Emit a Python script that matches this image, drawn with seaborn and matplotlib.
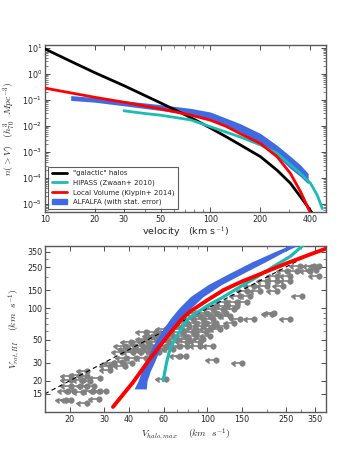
import numpy as np
import matplotlib
matplotlib.use('Agg')
import matplotlib.pyplot as plt
import matplotlib.ticker as mticker
from matplotlib.patches import Patch
from matplotlib.lines import Line2D
import seaborn as sns

# ---- top panel: cumulative velocity functions n(>V) ----
v_halo = [10, 15, 20, 30, 50, 76, 100, 125, 151, 201, 253, 305, 351, 385, 413]
n_halo = [8.9, 2.6, 1.1, 0.35, 0.076, 0.021, 0.0083, 0.0038, 0.0019,
          6.6e-4, 2.0e-4, 6.3e-5, 1.9e-5, 8.5e-6, 4.5e-6]

v_lv = [10, 20, 30, 50, 76, 100, 125, 151, 201, 253, 305, 351, 395, 410]
n_lv = [0.28, 0.125, 0.081, 0.045, 0.026, 0.0166, 0.0095, 5.1e-3,
        2.1e-3, 6.6e-4, 1.5e-4, 3.0e-5, 5.9e-6, 3.5e-6]

v_hipass = [30, 40, 50, 76, 100, 151, 201, 253, 305, 351, 403, 443, 475]
n_hipass = [0.038, 0.030, 0.0257, 0.017, 0.0093, 3.8e-3, 1.86e-3,
            8.9e-4, 3.2e-4, 1.5e-4, 6.3e-5, 2.2e-5, 6.8e-6]

v_alfalfa = [14.3, 20, 30, 50, 76, 100, 151, 201, 253, 305, 350, 390]
n_alfalfa_hi = [0.145, 0.123, 0.093, 0.065, 0.047, 0.034, 0.0123, 5.1e-3,
                1.8e-3, 6.8e-4, 3.2e-4, 1.5e-4]
n_alfalfa_lo = [0.095, 0.081, 0.059, 0.039, 0.027, 0.0186, 5.9e-3, 2.1e-3,
                6.9e-4, 2.3e-4, 1.15e-4, 6.0e-5]

# ---- bottom panel: V_rot,HI vs V_halo,max ----
red_vh = [33.2, 42, 51, 62, 74, 81.6, 100, 120.7, 150, 178.6, 220, 264, 330, 398]
red_vr = [11.2, 19.4, 32.4, 52.4, 78.5, 93, 120, 150, 182, 208, 245, 281, 330, 376]

cyan_vh = [59.7, 62.1, 64.5, 68.4, 78.5, 81.6, 100, 120.7, 150, 178.6, 220, 264, 308]
cyan_vr = [20.1, 30.1, 40, 50.5, 76, 82, 106, 129, 166, 201, 258, 318, 410]

band_vr = [16.7, 20, 25, 30, 40, 50, 65, 80, 100, 130, 170, 220, 280, 350, 420]
band_vh_left = [42.5, 44.5, 46.5, 48.6, 51.7, 55.2, 60.1, 65, 71.5, 82, 101,
                130.5, 167.5, 217.5, 273]
band_vh_right = [49, 49.4, 51.4, 53.8, 57.2, 61.1, 67.1, 72.7, 82.1, 95.3, 118,
                 153, 196, 244, 299]

one_to_one = [10, 335]

gal_vh = [19.2, 20.3, 24.6, 28.3,
          19.6, 21.1, 23.3, 26.3, 28.4, 30.7,
          20.3, 22.5, 24.6, 26.6,
          20.3, 23.3, 25.3,
          20.3, 22.5, 24.6, 28.4,
          24.6, 32,
          32, 38,
          33.7, 37, 41.5,
          38.8, 43.6, 49,
          37, 42, 46, 50, 57,
          39.6, 43.6, 47, 53, 60, 67,
          38, 43, 47, 52, 55, 62, 72.6, 78.5, 91.8, 107,
          41, 46, 50, 57, 64, 78.5, 92,
          49, 55, 62, 70, 81, 95,
          53, 57, 67, 77, 88, 103,
          49, 55, 63, 74, 85, 99,
          62, 74, 88, 103, 116,
          70, 81, 95, 107, 125,
          78.5, 88, 99, 111, 136,
          85, 95, 107, 147, 172,
          92, 103, 116, 130,
          88, 99, 111, 125, 217,
          107, 120, 136,
          111, 125, 141,
          125, 141, 159,
          147, 165, 302,
          159, 185, 225,
          172, 201, 243,
          201, 225, 264,
          225, 264, 368,
          253, 285, 333,
          296, 346, 368,
          111, 150, 62, 72.6, 78, 264, 355, 213]
gal_vr = [13, 13, 12.3, 13.3,
          15.8, 15.8, 15.6, 16, 16, 15.9,
          18, 18, 17.8, 18,
          20.5, 20.5, 20,
          22.4, 22.8, 22.4, 21.5,
          25, 25.5,
          28, 28,
          30, 30.5, 30,
          33, 33, 33,
          37.6, 37.6, 37.6, 37.6, 37.6,
          40.5, 40.5, 40.5, 40.5, 40.5, 40.5,
          43.6, 43.6, 43.6, 43.6, 43.6, 43.6, 43.6, 43.6, 43.6, 43.6,
          47, 47, 47, 47, 47, 47, 47,
          50.5, 50.5, 50.5, 50.5, 50.5, 50.5,
          54, 54, 54, 54, 54, 54,
          58.5, 58.5, 58.5, 58.5, 58.5, 58.5,
          63, 63, 63, 63, 63,
          68, 68, 68, 68, 68,
          73, 73, 73, 73, 73,
          78.5, 78.5, 78.5, 78.5, 78.5,
          84.5, 84.5, 84.5, 84.5,
          91, 91, 91, 91, 91,
          98, 98, 98,
          105, 105, 105,
          116, 116, 116,
          131, 131, 131,
          146, 146, 146,
          164, 164, 164,
          183, 183, 183,
          204, 204, 204,
          228, 228, 228,
          258, 258, 258,
          32, 30, 21, 35, 35, 78.5, 233, 88]

blue = 'royalblue'
cyan = '#1cbcb4'
red = 'red'

sns.set_style('ticks')
plt.rcParams['font.family'] = ['DejaVu Sans']
plt.rcParams['mathtext.fontset'] = 'cm'
plt.rcParams['xtick.direction'] = 'in'
plt.rcParams['ytick.direction'] = 'in'

fig = plt.figure(figsize=(3.62, 4.59), dpi=100)
ax1 = fig.add_axes([0.1243, 0.5381, 0.7762, 0.3638])
ax2 = fig.add_axes([0.1243, 0.1024, 0.7762, 0.3617])

# top panel
ax1.fill_between(v_alfalfa, n_alfalfa_lo, n_alfalfa_hi, color=blue, lw=0, zorder=2)
sns.lineplot(x=v_halo, y=n_halo, color='black', lw=2, ax=ax1, zorder=3)
sns.lineplot(x=v_hipass, y=n_hipass, color=cyan, lw=2, ax=ax1, zorder=3)
sns.lineplot(x=v_lv, y=n_lv, color=red, lw=2, ax=ax1, zorder=4)
ax1.set_xscale('log')
ax1.set_yscale('log')
ax1.set_xlim(10, 500)
ax1.set_ylim(5e-6, 12.6)
ax1.set_xticks([10, 20, 30, 50, 100, 200, 400])
ax1.set_xticklabels(['10', '20', '30', '50', '100', '200', '400'])
ax1.xaxis.set_minor_formatter(mticker.NullFormatter())
ax1.set_yticks([1e1, 1e0, 1e-1, 1e-2, 1e-3, 1e-4, 1e-5])
ax1.set_xlabel('velocity   (km s$^{-1}$)', fontsize=6.8, labelpad=0.5)
ax1.set_ylabel(r'$n(>V)\quad (h_{70}^3\ \ Mpc^{-3})$', fontsize=7, labelpad=3)

handles = [Line2D([], [], color='black', lw=2),
           Line2D([], [], color=cyan, lw=2),
           Line2D([], [], color=red, lw=2),
           Patch(facecolor=blue, edgecolor=blue)]
labels = ['"galactic" halos', 'HIPASS (Zwaan+ 2010)',
          'Local Volume (Klypin+ 2014)', 'ALFALFA (with stat. error)']
leg = ax1.legend(handles, labels, loc='lower left', bbox_to_anchor=(0.012, 0.02),
                 borderaxespad=0, fontsize=5, frameon=True, fancybox=False,
                 handlelength=2.2, labelspacing=0.45, borderpad=0.5)
leg.get_frame().set_edgecolor('0.2')
leg.get_frame().set_linewidth(0.8)

# bottom panel
ax2.errorbar(gal_vh, gal_vr, xerr=np.array(gal_vh) * 0.08, xuplims=True, fmt='o',
             color='gray', ms=3.4, capsize=1.8, elinewidth=1.2, zorder=1)
ax2.plot(one_to_one, one_to_one, color='black', lw=0.8, ls=(0, (4, 3)), zorder=2)
ax2.fill_betweenx(band_vr, band_vh_left, band_vh_right, color=blue, lw=0, zorder=3)
sns.lineplot(x=cyan_vh, y=cyan_vr, color=cyan, lw=2.3, ax=ax2, zorder=4, sort=False)
sns.lineplot(x=red_vh, y=red_vr, color=red, lw=2.8, ax=ax2, zorder=5, sort=False)
ax2.set_xscale('log')
ax2.set_yscale('log')
ax2.set_xlim(15, 400)
ax2.set_ylim(10, 400)
ax2.set_xticks([20, 30, 40, 60, 100, 150, 250, 350])
ax2.set_xticklabels(['20', '30', '40', '60', '100', '150', '250', '350'])
ax2.set_yticks([15, 20, 30, 50, 100, 150, 250, 350])
ax2.set_yticklabels(['15', '20', '30', '50', '100', '150', '250', '350'])
ax2.xaxis.set_minor_formatter(mticker.NullFormatter())
ax2.yaxis.set_minor_formatter(mticker.NullFormatter())
ax2.set_xlabel(r'$V_{halo,max}\quad\ (km\ \ s^{-1})$', fontsize=7, labelpad=2)
ax2.set_ylabel(r'$V_{rot,HI}\quad\ (km\ \ s^{-1})$', fontsize=7, labelpad=3)

for ax in (ax1, ax2):
    ax.tick_params(which='both', top=True, right=True, labelsize=5.8,
                   color='0.3', pad=2)
    ax.tick_params(which='major', length=3.5, width=0.7)
    ax.tick_params(which='minor', length=2, width=0.5)
    for s in ax.spines.values():
        s.set_color('0.35')
        s.set_linewidth(1.0)

fig.savefig('out.png', dpi=100)
